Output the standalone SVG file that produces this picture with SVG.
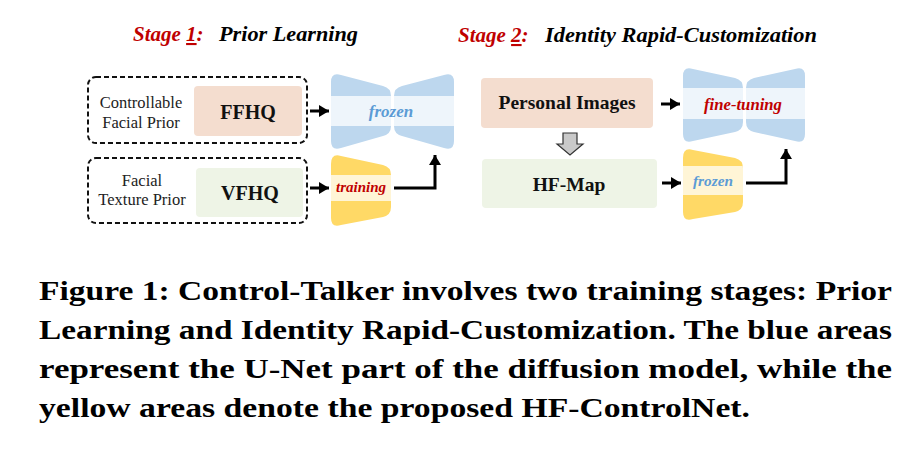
<svg xmlns="http://www.w3.org/2000/svg" width="915" height="464" viewBox="0 0 915 464">
<style>
.title{font-family:'Times New Roman',serif;font-weight:bold;font-style:italic;font-size:21px;fill:#000}
.red{fill:#c00000}
.lbl{font-size:16.5px;fill:#222;text-anchor:middle}
.bold{font-family:Liberation Serif,serif;font-weight:bold;font-size:19.5px;fill:#111;text-anchor:middle}
.it{font-family:'Liberation Serif','Times New Roman',serif;font-weight:bold;font-style:italic;text-anchor:middle}
.cap{font-family:'Liberation Serif','Times New Roman',serif;font-weight:bold;font-size:27px;fill:#000}
.dash{fill:none;stroke:#111;stroke-width:2;stroke-dasharray:5 3}
.peach{fill:#f4ddcf}
.green{fill:#eef4e6}
.blue{fill:#bdd7ee}
.blueband{fill:#eef5fb}
.yel{fill:#ffd966}
.yelband{fill:#fff5d6}
.conn{fill:none;stroke:#000;stroke-width:3}
</style>
<defs>
<marker id="ah" markerUnits="userSpaceOnUse" markerWidth="12" markerHeight="12" refX="10" refY="6" orient="auto">
<path d="M0,0 L10,6 L0,12 Z" fill="#000"/>
</marker>
<clipPath id="u1l"><path d="M331,82 Q331,72 341,75 L383,86 Q391,88 391,96 L391,126 Q391,134 383,136 L341,148 Q331,151 331,141 Z"/></clipPath>
<clipPath id="u1r"><path d="M394,96 Q394,88 402,86 L444,75 Q454,72 454,82 L454,141 Q454,151 444,148 L402,136 Q394,134 394,126 Z"/></clipPath>
<clipPath id="y1"><path d="M331,164 Q331,153 341,156 L383,165 Q391,167 391,175 L391,207 Q391,215 383,217 L341,225 Q331,228 331,218 Z"/></clipPath>
<clipPath id="u2l"><path d="M683,76 Q683,66 693,69 L735,78 Q743,80 743,88 L743,122 Q743,130 735,132 L693,141 Q683,144 683,134 Z"/></clipPath>
<clipPath id="u2r"><path d="M746,88 Q746,80 754,78 L795,69 Q805,66 805,76 L805,134 Q805,144 795,141 L754,132 Q746,130 746,122 Z"/></clipPath>
<clipPath id="y2"><path d="M683,158 Q683,147 693,150 L735,158 Q743,160 743,168 L743,202 Q743,210 735,212 L693,219 Q683,222 683,212 Z"/></clipPath>
</defs>

<g id="titles">
<text class="title" x="133" y="41"><tspan class="red">Stage </tspan><tspan class="red" text-decoration="underline">1</tspan><tspan class="red">:</tspan></text>
<text class="title" x="219" y="41" textLength="139" lengthAdjust="spacingAndGlyphs">Prior Learning</text>
<text class="title" x="458" y="42"><tspan class="red">Stage </tspan><tspan class="red" text-decoration="underline">2</tspan><tspan class="red">:</tspan></text>
<text class="title" x="545" y="42" textLength="272" lengthAdjust="spacingAndGlyphs">Identity Rapid-Customization</text>
</g>

<g id="ctrl-prior">
<rect class="dash" x="88" y="77" width="219" height="66" rx="8"/>
<text class="lbl" font-family="Liberation Serif" x="141" y="108">Controllable</text>
<text class="lbl" font-family="Liberation Serif" x="141" y="128">Facial Prior</text>
</g>
<g id="ffhq">
<rect class="peach" x="194" y="86" width="108" height="50" rx="4"/>
<text class="bold" x="248" y="119" style="font-size:20px">FFHQ</text>
</g>

<g id="tex-prior">
<rect class="dash" x="88" y="158" width="219" height="65" rx="8"/>
<text class="lbl" font-family="Liberation Serif" x="142" y="186">Facial</text>
<text class="lbl" font-family="Liberation Serif" x="142" y="205">Texture Prior</text>
</g>
<g id="vfhq">
<rect class="green" x="196" y="168" width="107" height="49" rx="4"/>
<text class="bold" x="250" y="200" style="font-size:20px">VFHQ</text>
</g>

<g id="unet1">
<g clip-path="url(#u1l)"><rect class="blue" x="330" y="70" width="62" height="84"/><rect class="blueband" x="330" y="96" width="62" height="30"/></g>
<g clip-path="url(#u1r)"><rect class="blue" x="393" y="70" width="62" height="84"/><rect class="blueband" x="393" y="96" width="62" height="30"/></g>
<text class="it" x="391" y="117" style="font-size:17px;fill:#5b9bd5">frozen</text>
</g>

<g id="ctrlnet1">
<g clip-path="url(#y1)"><rect class="yel" x="330" y="150" width="62" height="80"/><rect class="yelband" x="330" y="175" width="62" height="26"/></g>
<text class="it" x="361" y="192" style="font-size:15px;fill:#c00000">training</text>
</g>

<g id="personal">
<rect class="peach" x="481" y="78" width="172" height="50" rx="4"/>
<text class="bold" x="567" y="109">Personal Images</text>
</g>

<g id="hfmap">
<rect class="green" x="482" y="159" width="175" height="49" rx="4"/>
<text class="bold" x="569" y="191">HF-Map</text>
</g>

<g id="unet2">
<g clip-path="url(#u2l)"><rect class="blue" x="682" y="64" width="62" height="82"/><rect class="blueband" x="682" y="88" width="62" height="31"/></g>
<g clip-path="url(#u2r)"><rect class="blue" x="745" y="64" width="62" height="82"/><rect class="blueband" x="745" y="88" width="62" height="31"/></g>
<text class="it" x="743" y="110" style="font-size:16.7px;fill:#c00000">fine-tuning</text>
</g>

<g id="ctrlnet2">
<g clip-path="url(#y2)"><rect class="yel" x="682" y="145" width="62" height="80"/><rect class="yelband" x="682" y="166" width="62" height="29"/></g>
<text class="it" x="713" y="186" style="font-size:15.3px;fill:#5b9bd5">frozen</text>
</g>

<g id="connectors">
<path class="conn" d="M310,111 L329,111" marker-end="url(#ah)"/>
<path class="conn" d="M310,188 L329,188" marker-end="url(#ah)"/>
<path class="conn" d="M394,188 L435,188 L435,155" marker-end="url(#ah)"/>
<path class="conn" d="M661,104 L680,104" marker-end="url(#ah)"/>
<path class="conn" d="M662,183 L681,183" marker-end="url(#ah)"/>
<path class="conn" d="M746,183 L786,183 L786,149" marker-end="url(#ah)"/>
<polygon points="563,133 577,133 577,144 583,144 570,155 557,144 563,144" fill="#c9c9c9" stroke="#333" stroke-width="1.2"/>
</g>

<g id="caption">
<text class="cap" x="39" y="300" textLength="853" lengthAdjust="spacingAndGlyphs">Figure 1: Control-Talker involves two training stages: Prior</text>
<text class="cap" x="39" y="339" textLength="853" lengthAdjust="spacingAndGlyphs">Learning and Identity Rapid-Customization. The blue areas</text>
<text class="cap" x="39" y="378" textLength="853" lengthAdjust="spacingAndGlyphs">represent the U-Net part of the diffusion model, while the</text>
<text class="cap" x="39" y="417" textLength="711" lengthAdjust="spacingAndGlyphs">yellow areas denote the proposed HF-ControlNet.</text>
</g>
</svg>
